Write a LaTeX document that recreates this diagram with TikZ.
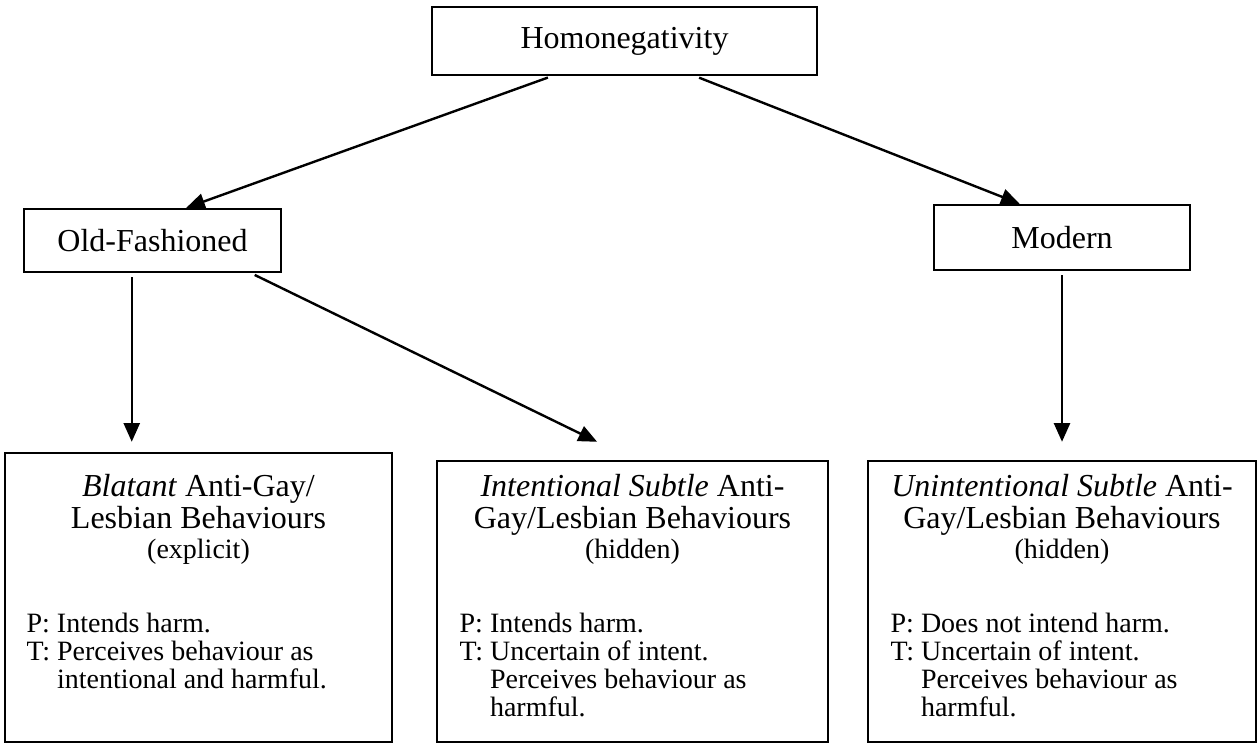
\documentclass[tikz,border=0pt]{standalone}
\usepackage{fontspec}
\setmainfont{Liberation Serif}
\usetikzlibrary{arrows.meta, positioning, calc}

\begin{document}
\begin{tikzpicture}[
    x=0.375pt, y=-0.375pt,
    box/.style={rectangle, draw, line width=0.9pt, inner sep=0pt, font=\fontsize{12}{12}\selectfont},
    head/.style={anchor=north, inner sep=0pt, align=center, font=\fontsize{12}{12}\selectfont},
    detail/.style={anchor=north west, inner sep=0pt, font=\fontsize{10.5}{10.5}\selectfont},
    arrow/.style={-{Triangle[length=7pt, width=6pt]}, line width=0.9pt, shorten <=1.5pt}
]
    \useasboundingbox (0,0) rectangle (1257,744);

    % Top level
    \node[box, minimum width=144.4pt, minimum height=25.5pt] (homo) at (624.5,41) {Homonegativity};

    % Second level
    \node[box, minimum width=96.4pt, minimum height=23.6pt] (oldfash) at (152.5,240.5) {Old-Fashioned};
    \node[box, minimum width=96pt, minimum height=24.4pt] (modern) at (1062,237.5) {Modern};

    % Behaviour boxes
    \node[box, minimum width=145.1pt, minimum height=108.4pt] (blatant) at (198.5,597.5) {};
    \node[box, minimum width=146.6pt, minimum height=105.4pt] (intent) at (632.5,601.5) {};
    \node[box, minimum width=145.5pt, minimum height=105.4pt] (unint) at (1062,601.5) {};

    % Box texts
    \node[head] (blatanthead) at (198.5,474) {\textit{Blatant} Anti-Gay/\\ Lesbian Behaviours\\[-1pt] {\fontsize{10.5}{10.5}\selectfont (explicit)}};
    \node[head] (intenthead) at (632.5,474) {\textit{Intentional Subtle} Anti-\\ Gay/Lesbian Behaviours\\[-1pt] {\fontsize{10.5}{10.5}\selectfont (hidden)}};
    \node[head] (uninthead) at (1062,474) {\textit{Unintentional Subtle} Anti-\\ Gay/Lesbian Behaviours\\[-1pt] {\fontsize{10.5}{10.5}\selectfont (hidden)}};

    \node[detail] (blatantdetail) at (26,612) {\begin{tabular}{@{}l@{\ }l@{}}
        P: & Intends harm.\\
        T: & Perceives behaviour as\\
           & intentional and harmful.
    \end{tabular}};
    \node[detail] (intentdetail) at (459,612) {\begin{tabular}{@{}l@{\ }l@{}}
        P: & Intends harm.\\
        T: & Uncertain of intent.\\
           & Perceives behaviour as\\
           & harmful.
    \end{tabular}};
    \node[detail] (unintdetail) at (890,612) {\begin{tabular}{@{}l@{\ }l@{}}
        P: & Does not intend harm.\\
        T: & Uncertain of intent.\\
           & Perceives behaviour as\\
           & harmful.
    \end{tabular}};

    % Arrows
    \coordinate (oldfoot) at ($(oldfash.south west)!0.42!(oldfash.south east)$);
    \coordinate (blatanttip) at ($(blatant.north)+(0,-10)$);
    \coordinate (intenttip) at ($(intent.north west)!0.41!(intent.north east)+(0,-18)$);
    \coordinate (unintttip) at ($(unint.north)+(0,-18)$);

    \draw[arrow] ($(homo.south west)!0.312!(homo.south east)$) -- ($(oldfash.north west)!0.63!(oldfash.north east)$);
    \draw[arrow] ($(homo.south west)!0.683!(homo.south east)$) -- ($(modern.north west)!0.336!(modern.north east)$);
    \draw[arrow] (oldfoot) -- (oldfoot |- blatanttip);
    \draw[arrow] ($(oldfash.south west)!0.88!(oldfash.south east)$) -- (intenttip);
    \draw[arrow] (modern) -- (unintttip);
\end{tikzpicture}
\end{document}
